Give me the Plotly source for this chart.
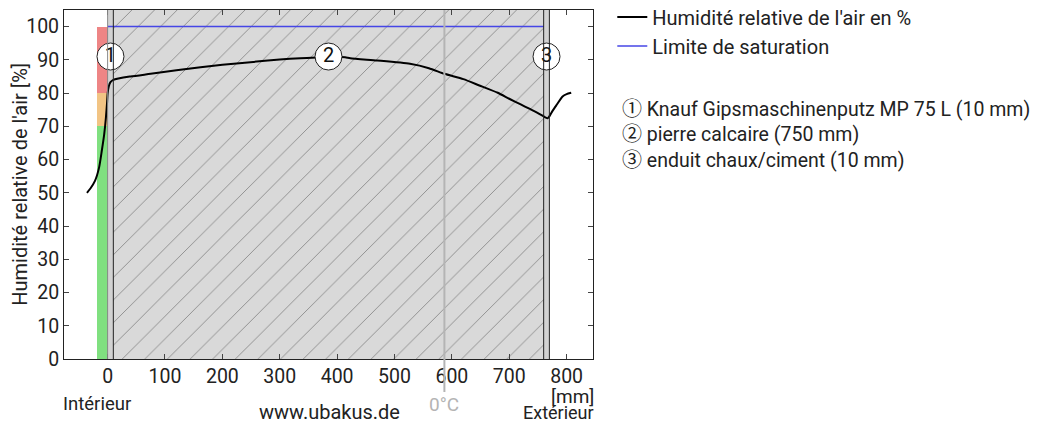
import plotly.graph_objects as go

# ---------------- data ----------------
pos_mm = [-36, -30, -22, -15, -10, -6, -3, -1, 0, 2, 5, 10, 40, 75, 120, 162, 200, 249, 300, 336,
          370, 400, 414, 423, 470, 527, 560, 587, 620, 648, 680, 700, 720, 735, 750, 762, 767,
          770, 775, 782, 793, 800, 808]
rh_pct = [50.0, 51.3, 53.6, 57.5, 62.8, 67.5, 72.5, 77.0, 79.8, 82.0, 83.3, 84.0, 85.0, 85.8, 86.9,
          87.8, 88.5, 89.3, 90.1, 90.5, 90.8, 90.9, 90.8, 90.5, 89.8, 88.8, 87.5, 85.8, 84.2, 82.3,
          80.1, 78.3, 76.6, 75.3, 74.0, 72.8, 72.4, 73.0, 74.5, 76.3, 79.0, 79.7, 80.1]

sat_x = [0, 760]
sat_y = [100, 100]

layer_names = ["Knauf Gipsmaschinenputz MP 75 L (10 mm)", "pierre calcaire (750 mm)",
               "enduit chaux/ciment (10 mm)"]
layer_thick = [10, 750, 10]
layer_labels = ["1", "2", "3"]
circled = ["①", "②", "③"]

zero_c_pos = 587

rh_band_base = [0, 70, 80]
rh_band_height = [70, 10, 20]
rh_band_colors = ["#80e080", "#f2c484", "#ee8585"]

x_range = [-76, 846]
y_range = [0, 105]
x_ticks = list(range(0, 801, 100))
y_ticks = list(range(0, 101, 10))
FONT = "Roboto, 'DejaVu Sans', sans-serif"
TXT = "#222222"

# ---------------- geometry helpers (plot area in pixels) ----------------
PL, PR, PT, PB = 63.5, 592.7, 9.5, 359.0


def pxx(px):
    return (px - PL) / (PR - PL)


def pxy(py):
    return (PB - py) / (PB - PT)


# layer bounds
bounds = [0]
for t in layer_thick:
    bounds.append(bounds[-1] + t)
centers = [(bounds[i] + bounds[i + 1]) / 2 for i in range(len(layer_thick))]

fig = go.Figure()

# indoor RH band
fig.add_trace(go.Bar(x=[-9] * 3, y=rh_band_height, base=rh_band_base, width=[18] * 3,
                     marker=dict(color=rh_band_colors, line=dict(width=0)),
                     showlegend=False, hoverinfo="skip"))

# layers
for i, t in enumerate(layer_thick):
    if i == 1:
        mk = dict(color="#d9d9d9", line=dict(width=0),
                  pattern=dict(shape="/", fgcolor="#8f8f8f", bgcolor="#d9d9d9",
                               size=16, solidity=0.06, fillmode="replace"))
    else:
        mk = dict(color="#d2d2d2", line=dict(width=0))
    fig.add_trace(go.Bar(x=[centers[i]], y=[y_range[1]], base=[0], width=[t], marker=mk,
                         showlegend=False, hoverinfo="skip"))

# layer boundary lines
for j, b in enumerate(bounds):
    fig.add_shape(type="line", xref="x", yref="y", x0=b, x1=b, y0=y_range[0], y1=y_range[1],
                  line=dict(color="#888888" if j == 0 else "#222222", width=1))

# 0°C line
fig.add_shape(type="line", xref="x", yref="paper", x0=zero_c_pos, x1=zero_c_pos, y0=pxy(392), y1=1,
              line=dict(color="#b4b4b4", width=2))
fig.add_annotation(x=zero_c_pos, xref="x", y=pxy(405), yref="paper", text="0°C", showarrow=False,
                   xanchor="center", yanchor="middle",
                   font=dict(family=FONT, size=19, color="#b4b4b4"))

# RH curve (legend first)
fig.add_trace(go.Scatter(x=pos_mm, y=rh_pct, mode="lines", line=dict(color="black", width=2),
                         line_shape="spline", line_smoothing=0.6,
                         name="Humidité relative de l'air en %", legendgroup="a", legendrank=1))
# saturation line
fig.add_trace(go.Scatter(x=sat_x, y=sat_y, mode="lines", line=dict(color="#4646e6", width=1.5),
                         name="Limite de saturation", legendgroup="b", legendrank=2))

# layer circles
fig.add_trace(go.Scatter(x=centers, y=[91] * 3, mode="markers+text", text=layer_labels,
                         textposition="middle center",
                         textfont=dict(family=FONT, size=20, color="#111"),
                         marker=dict(symbol="circle", size=27, color="white",
                                     line=dict(color="#222", width=1)),
                         showlegend=False, hoverinfo="skip"))

# layer list (one multi-line text block)
list_lines = [f"<span style=\"font-family:'Noto Sans CJK JP';font-size:20px\">{c}</span> {n}"
              for c, n in zip(circled, layer_names)]
fig.add_annotation(x=pxx(620), xref="paper", y=pxy(133), yref="paper",
                   text="<br>".join(list_lines), align="left",
                   showarrow=False, xanchor="left", yanchor="middle",
                   font=dict(family=FONT, size=19.5, color=TXT))

# y-axis title
fig.add_annotation(x=pxx(20), y=pxy(184), xref="paper", yref="paper",
                   text="Humidité relative de l'air [%]", textangle=-90, showarrow=False,
                   xanchor="center", yanchor="middle", font=dict(family=FONT, size=20, color=TXT))

# bottom texts
fig.add_annotation(x=pxx(97), y=pxy(404), xref="paper", yref="paper", text="Intérieur",
                   showarrow=False, xanchor="center", yanchor="middle",
                   font=dict(family=FONT, size=18.5, color=TXT))
fig.add_annotation(x=pxx(329), y=pxy(412), xref="paper", yref="paper", text="www.ubakus.de",
                   showarrow=False, xanchor="center", yanchor="middle",
                   font=dict(family=FONT, size=20, color=TXT))
fig.add_annotation(x=pxx(596), y=pxy(397), xref="paper", yref="paper", text="[mm]",
                   showarrow=False, xanchor="right", yanchor="middle",
                   font=dict(family=FONT, size=19, color=TXT))
fig.add_annotation(x=pxx(596), y=pxy(413), xref="paper", yref="paper", text="Extérieur",
                   showarrow=False, xanchor="right", yanchor="middle",
                   font=dict(family=FONT, size=18, color=TXT))

fig.update_layout(
    width=1059, height=424,
    margin=dict(l=PL, r=1059 - PR, t=PT, b=424 - PB, autoexpand=False),
    paper_bgcolor="white", plot_bgcolor="white",
    barmode="overlay", bargap=0,
    font=dict(family=FONT, size=19.5, color=TXT),
    legend=dict(x=pxx(612), y=pxy(-3), xanchor="left", yanchor="top",
                font=dict(family=FONT, size=20, color=TXT), traceorder="grouped",
                tracegroupgap=0, bgcolor="rgba(0,0,0,0)", itemwidth=30),
    showlegend=True,
)
fig.update_xaxes(range=x_range, tickvals=x_ticks, ticks="inside", ticklen=5,
                 showline=True, linecolor="#222", linewidth=1, mirror="ticks", showgrid=False,
                 zeroline=False, tickfont=dict(size=19.5))
fig.update_yaxes(range=y_range, tickvals=y_ticks, ticks="inside", ticklen=5,
                 showline=True, linecolor="#222", linewidth=1, mirror="ticks", showgrid=False,
                 zeroline=False, tickfont=dict(size=19.5))

fig.write_html("out.html")
